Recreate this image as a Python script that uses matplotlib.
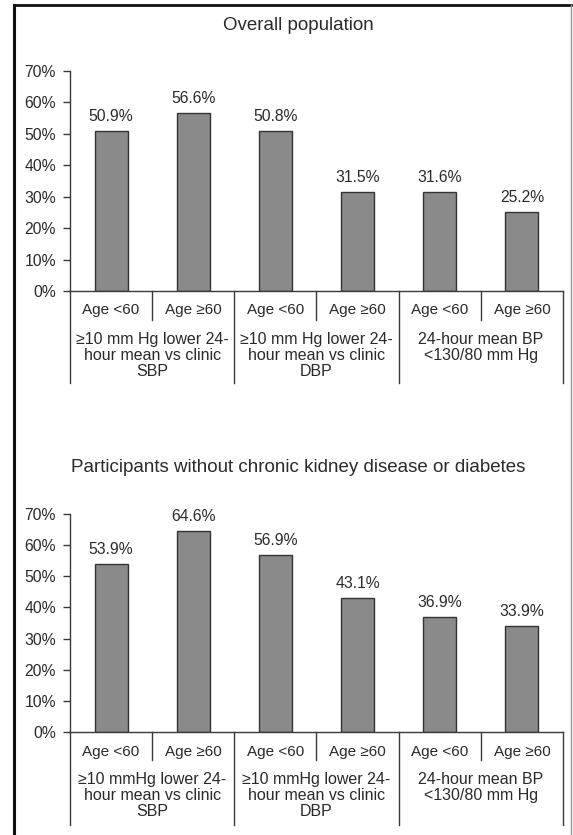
import matplotlib
matplotlib.use("Agg")
import matplotlib.pyplot as plt
from matplotlib.lines import Line2D

plt.rcParams["font.family"] = ["Liberation Sans", "DejaVu Sans"]

# data
age_labels = ["Age <60", "Age \u226560"] * 3
overall_pct = [50.9, 56.6, 50.8, 31.5, 31.6, 25.2]
no_ckd_pct = [53.9, 64.6, 56.9, 43.1, 36.9, 33.9]
groups_top = [
    "\u226510 mm Hg lower 24-\nhour mean vs clinic\nSBP",
    "\u226510 mm Hg lower 24-\nhour mean vs clinic\nDBP",
    "24-hour mean BP\n<130/80 mm Hg",
]
groups_bottom = [
    "\u226510 mmHg lower 24-\nhour mean vs clinic\nSBP",
    "\u226510 mmHg lower 24-\nhour mean vs clinic\nDBP",
    "24-hour mean BP\n<130/80 mm Hg",
]
yticks = [0, 10, 20, 30, 40, 50, 60, 70]

W, H = 573, 835
fig = plt.figure(figsize=(W / 100, H / 100), dpi=100)

TXT = "#2a2a2a"
AX = "#3a3a3a"


def panel(rect_px, values, groups, title, title_y, age_dy, grp_dy, sep_short, sep_long):
    x0, ytop, x1, ybot = rect_px
    ax = fig.add_axes([x0 / W, 1 - ybot / H, (x1 - x0) / W, (ybot - ytop) / H])
    h_px = ybot - ytop
    xs = list(range(len(values)))
    ax.bar(xs, values, width=0.4, color="#8a8a8a", edgecolor="#333333", linewidth=1.0)
    for x, v in zip(xs, values):
        ax.annotate(f"{v:.1f}%", (x, v), xytext=(0, 10.5), textcoords="offset points",
                    ha="center", va="center", fontsize=11.3, color=TXT)
    ax.set_xlim(-0.5, len(values) - 0.5)
    ax.set_ylim(0, 70)
    ax.set_yticks(yticks)
    ax.set_yticklabels([f"{t}%" for t in yticks], fontsize=11.3, color=TXT)
    ax.tick_params(axis="y", direction="out", length=5, width=1, color=AX, pad=5)
    ax.set_xticks([])
    for s in ["top", "right"]:
        ax.spines[s].set_visible(False)
    for s in ["left", "bottom"]:
        ax.spines[s].set_color(AX)
        ax.spines[s].set_linewidth(1.0)

    tr = ax.get_xaxis_transform()
    # age separators inside a group
    for b in [0.5, 2.5, 4.5]:
        ax.add_line(Line2D([b, b], [0, -sep_short / h_px], transform=tr, color=AX,
                           lw=1.0, clip_on=False))
    # group separators
    for b in [-0.5, 1.5, 3.5, 5.5]:
        ax.add_line(Line2D([b, b], [0, -sep_long / h_px], transform=tr, color=AX,
                           lw=1.0, clip_on=False))
    for x, lab in zip(xs, age_labels):
        ax.text(x, -age_dy / h_px, lab, transform=tr, ha="center", va="center",
                fontsize=11, color=TXT)
    for i, g in enumerate(groups):
        ax.text(2 * i + 0.5, -grp_dy / h_px, g, transform=tr, ha="center", va="top",
                fontsize=11.5, color=TXT, linespacing=1.1)
    fig.text(298 / W, 1 - title_y / H, title, ha="center", va="center",
             fontsize=13.5, color=TXT)
    return ax


panel((70, 71, 563, 291), overall_pct, groups_top, "Overall population",
      25, 19, 41, 29, 92)
panel((70, 514, 563, 732), no_ckd_pct, groups_bottom,
      "Participants without chronic kidney disease or diabetes",
      467, 20, 40, 28, 93)

# outer frame
fig.add_artist(Line2D([13.5 / W, 13.5 / W], [0, 1 - 5 / H], transform=fig.transFigure,
                      color="#111111", lw=2.2))
fig.add_artist(Line2D([13.5 / W, 571 / W], [1 - 5 / H, 1 - 5 / H], transform=fig.transFigure,
                      color="#111111", lw=2.0))
fig.add_artist(Line2D([571 / W, 571 / W], [0, 1 - 5 / H], transform=fig.transFigure,
                      color="#9a9a9a", lw=1.0))

fig.savefig("out.png", dpi=100)
